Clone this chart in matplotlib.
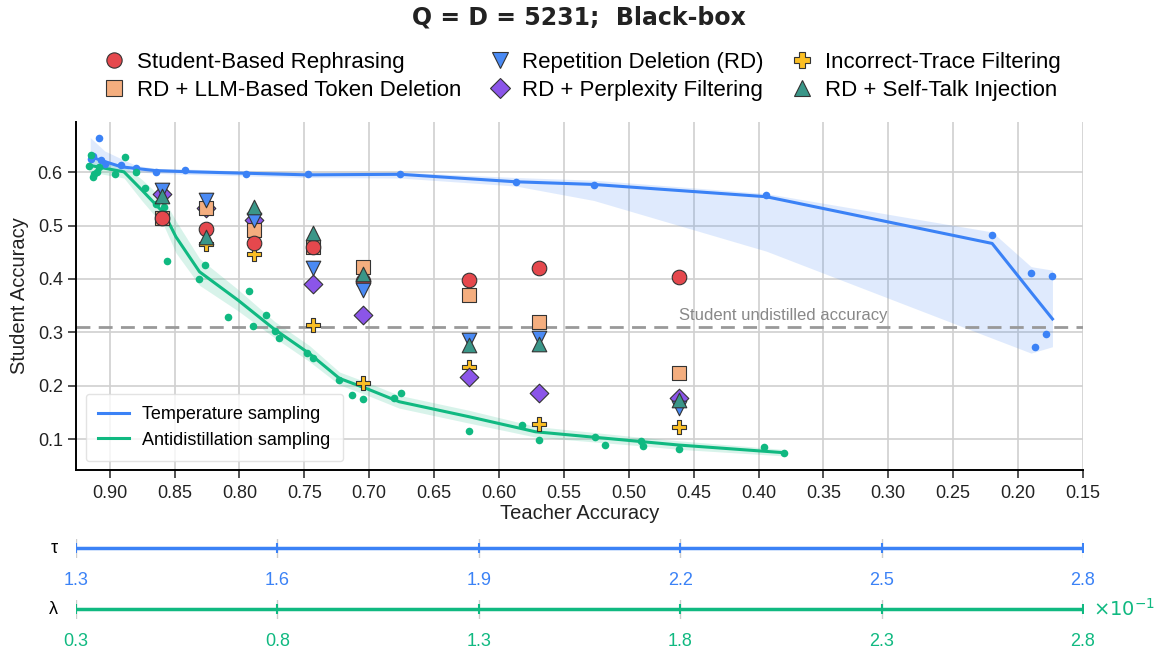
import matplotlib.pyplot as plt
from matplotlib.lines import Line2D
from matplotlib.ticker import FuncFormatter

plt.rcParams['font.family'] = ['Liberation Sans', 'DejaVu Sans']

BLUE = '#3b82f6'
GREEN = '#10b981'

# temperature sampling runs (teacher acc, student acc)
temp_x = [0.908, 0.913, 0.9146, 0.907, 0.904, 0.891, 0.8795, 0.8646, 0.842, 0.795, 0.7475,
          0.676, 0.587, 0.527, 0.394, 0.220, 0.190, 0.1735, 0.1785, 0.187]
temp_y = [0.664, 0.630, 0.6256, 0.622, 0.616, 0.613, 0.607, 0.6006, 0.605, 0.5975, 0.596,
          0.5975, 0.582, 0.576, 0.557, 0.483, 0.411, 0.406, 0.297, 0.273]

# smoothed trend + band for temperature sampling
temp_fit_x = [0.915, 0.904, 0.891, 0.880, 0.865, 0.842, 0.795, 0.748, 0.676, 0.587, 0.527,
              0.394, 0.220, 0.190, 0.1735]
temp_fit_y = [0.629, 0.620, 0.610, 0.607, 0.603, 0.601, 0.598, 0.595, 0.596, 0.582, 0.577,
              0.554, 0.4665, 0.375, 0.325]
temp_fit_lo = [0.615, 0.610, 0.603, 0.601, 0.598, 0.596, 0.593, 0.590, 0.589, 0.574, 0.547,
               0.452, 0.289, 0.261, 0.273]
temp_fit_hi = [0.665, 0.640, 0.625, 0.613, 0.607, 0.606, 0.602, 0.600, 0.600, 0.590, 0.585,
               0.560, 0.488, 0.423, 0.4165]

# antidistillation sampling runs
anti_x = [0.9146, 0.916, 0.912, 0.913, 0.9095, 0.908, 0.896, 0.888, 0.8795, 0.873, 0.864,
          0.858, 0.856, 0.8267, 0.8315, 0.7928, 0.8085, 0.7795, 0.7897, 0.773, 0.7698, 0.7482,
          0.743, 0.7236, 0.7136, 0.7049, 0.6813, 0.6757, 0.6228, 0.5823, 0.5692, 0.5262,
          0.5187, 0.4905, 0.4892, 0.461, 0.3956, 0.380]
anti_y = [0.632, 0.611, 0.5975, 0.591, 0.6006, 0.610, 0.5957, 0.6287, 0.5994, 0.571, 0.541,
          0.535, 0.4333, 0.4253, 0.399, 0.378, 0.329, 0.332, 0.3116, 0.303, 0.2886, 0.2606,
          0.2517, 0.2105, 0.1824, 0.1755, 0.1762, 0.1867, 0.1155, 0.1262, 0.0981, 0.1043,
          0.0888, 0.0963, 0.0875, 0.0807, 0.0845, 0.0733]

anti_fit_x = [0.916, 0.889, 0.875, 0.858, 0.849, 0.8308, 0.801, 0.773, 0.746, 0.723, 0.7025,
              0.677, 0.623, 0.572, 0.4923, 0.4615, 0.380]
anti_fit_y = [0.613, 0.6006, 0.566, 0.5227, 0.479, 0.4134, 0.360, 0.3055, 0.260, 0.2137, 0.195,
              0.170, 0.1418, 0.1137, 0.0957, 0.0888, 0.0744]
anti_fit_lo = [0.601, 0.589, 0.546, 0.498, 0.449, 0.388, 0.340, 0.290, 0.245, 0.2017, 0.183,
               0.158, 0.1298, 0.1037, 0.0877, 0.0808, 0.0684]
anti_fit_hi = [0.625, 0.6126, 0.586, 0.5477, 0.509, 0.4384, 0.380, 0.3205, 0.275, 0.2257, 0.207,
               0.182, 0.1538, 0.1237, 0.1037, 0.0968, 0.0804]

# post-processing methods applied on antidistilled traces
method_x = [0.860, 0.826, 0.789, 0.743, 0.7046, 0.623, 0.569, 0.461]
rephrase_y = [0.514, 0.493, 0.4665, 0.459, 0.3965, 0.398, 0.4197, 0.404]
token_del_y = [0.514, 0.532, 0.4914, 0.459, 0.4215, 0.370, 0.3186, 0.224]
rep_del_y = [0.566, 0.5476, 0.511, 0.4197, 0.379, 0.2854, 0.2886, 0.1575]
perplexity_y = [0.560, 0.533, 0.510, 0.390, 0.332, 0.2167, 0.1867, 0.176]
incorrect_y = [0.515, 0.4646, 0.446, 0.3135, 0.2055, 0.2354, 0.128, 0.122]
self_talk_y = [0.555, 0.479, 0.534, 0.4864, 0.409, 0.276, 0.279, 0.174]

undistilled_acc = 0.31

tau_ticks = [1.3, 1.6, 1.9, 2.2, 2.5, 2.8]
lam_ticks = [0.03, 0.08, 0.13, 0.18, 0.23, 0.28]

# (label, y values, marker, color, size, draw order)
methods = [
    ('Student-Based Rephrasing', rephrase_y, 'o', '#e5484d', 110, 5),
    ('RD + LLM-Based Token Deletion', token_del_y, 's', '#f4ae7f', 100, 4),
    ('Repetition Deletion (RD)', rep_del_y, 'v', '#4a8af4', 110, 6),
    ('RD + Perplexity Filtering', perplexity_y, 'D', '#8b55e9', 90, 3),
    ('Incorrect-Trace Filtering', incorrect_y, 'P', '#fbbf24', 110, 2),
    ('RD + Self-Talk Injection', self_talk_y, '^', '#3a9688', 110, 7),
]

fig = plt.figure(figsize=(11.58, 6.51), dpi=100)
ax = fig.add_axes([0.0656, 0.278, 0.8696, 0.5346])

ax.fill_between(temp_fit_x, temp_fit_lo, temp_fit_hi, color=BLUE, alpha=0.16, lw=0, zorder=1)
ax.fill_between(anti_fit_x, anti_fit_lo, anti_fit_hi, color=GREEN, alpha=0.16, lw=0, zorder=1)
ax.plot(temp_fit_x, temp_fit_y, color=BLUE, lw=2.2, zorder=2, label='Temperature sampling')
ax.plot(anti_fit_x, anti_fit_y, color=GREEN, lw=2.2, zorder=2, label='Antidistillation sampling')
ax.scatter(temp_x, temp_y, s=30, color=BLUE, lw=0, zorder=2)
ax.scatter(anti_x, anti_y, s=30, color=GREEN, lw=0, zorder=2)

ax.axhline(undistilled_acc, color='#999999', ls='--', lw=2, dashes=(5, 3), zorder=1.5)
ax.text(0.461, undistilled_acc + 0.008, 'Student undistilled accuracy', color='#888888',
        fontsize=12, ha='left', va='bottom')

method_handles = []
for label, ys, mk, col, sz, zo in methods:
    ax.scatter(method_x, ys, marker=mk, s=sz, color=col, edgecolor='#333333', lw=0.8, zorder=3 + zo * 0.1)
    method_handles.append(Line2D([], [], ls='', marker=mk, markersize=11 if mk != 'D' else 10,
                                 markerfacecolor=col, markeredgecolor='#333333', markeredgewidth=0.8,
                                 label=label))

ax.set_xlim(0.926, 0.15)
ax.set_ylim(0.042, 0.694)
ax.set_xticks([0.90, 0.85, 0.80, 0.75, 0.70, 0.65, 0.60, 0.55, 0.50, 0.45, 0.40, 0.35, 0.30, 0.25, 0.20, 0.15])
ax.set_yticks([0.1, 0.2, 0.3, 0.4, 0.5, 0.6])
ax.xaxis.set_major_formatter(FuncFormatter(lambda v, _: f'{v:.2f}'))
ax.yaxis.set_major_formatter(FuncFormatter(lambda v, _: f'{v:.1f}'))
ax.grid(True, color='#d0d0d0', lw=1.2)
ax.set_axisbelow(True)
for s in ['top', 'right']:
    ax.spines[s].set_visible(False)
for s in ['left', 'bottom']:
    ax.spines[s].set_linewidth(1.4)
    ax.spines[s].set_color('black')
ax.tick_params(labelsize=13, length=6, width=1.2, color='#333333', labelcolor='#222222')
ax.tick_params(axis='x', pad=5)
ax.set_xlabel('Teacher Accuracy', fontsize=14.5, labelpad=1, color='#222222')
ax.set_ylabel('Student Accuracy', fontsize=14.5, labelpad=6, color='#222222')

ax.legend(loc='lower left', bbox_to_anchor=(0.006, 0.015), fontsize=13, frameon=True,
          edgecolor='#dddddd', handlelength=1.7, handletextpad=0.75, borderpad=0.7,
          labelspacing=0.45, borderaxespad=0.2)

fig.legend(handles=method_handles, loc='upper center', bbox_to_anchor=(0.5, 0.951), ncol=3,
           frameon=False, fontsize=16, handlelength=1.5, handletextpad=0.25,
           columnspacing=1.0, labelspacing=0.3)

fig.text(0.5, 0.992, 'Q = D = 5231;  Black-box', ha='center', va='top', fontsize=17,
         fontweight='bold', family='DejaVu Sans', color='#222222')


def param_axis(ypos, ticks, color, symbol, fmt):
    pax = fig.add_axes([0.0656, ypos, 0.8696, 0.03])
    pax.set_xlim(ticks[0], ticks[-1])
    pax.set_ylim(-1, 1)
    pax.plot(ticks, [0] * len(ticks), color=color, lw=2.5, marker='|', markersize=7, mew=1.5, zorder=3)
    pax.set_xticks(ticks)
    pax.xaxis.set_major_formatter(FuncFormatter(fmt))
    pax.grid(True, axis='x', color='#cccccc', lw=1)
    pax.set_yticks([])
    for s in pax.spines.values():
        s.set_visible(False)
    pax.tick_params(axis='x', length=0, pad=10, labelsize=13, labelcolor=color)
    pax.text(-0.018, 0.5, symbol, transform=pax.transAxes, ha='right', va='center', fontsize=13)
    return pax


param_axis(0.1425, tau_ticks, BLUE, 'τ', lambda v, _: f'{v:.1f}')
lam_ax = param_axis(0.049, lam_ticks, GREEN, 'λ', lambda v, _: f'{v * 10:.1f}')
lam_ax.text(1.01, 0.5, r'$\times10^{-1}$', transform=lam_ax.transAxes, ha='left', va='center',
            fontsize=14, color=GREEN)

fig.savefig('out.png', dpi=100)
